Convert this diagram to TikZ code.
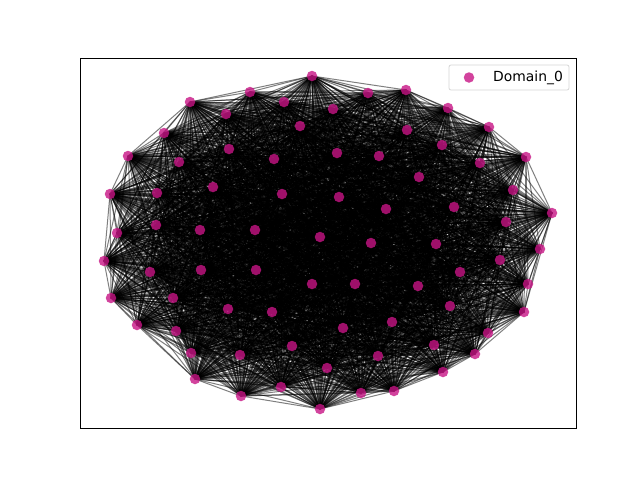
\documentclass[tikz,border=0pt]{standalone}
\usepackage{fontspec}
\setmainfont{DejaVu Sans}
\definecolor{mvr}{RGB}{199,21,133}
\definecolor{legframe}{RGB}{204,204,204}
\pgfdeclarelayer{bglayer}
\pgfdeclarelayer{edgelayer}
\pgfsetlayers{bglayer,edgelayer,main}
\begin{document}
\begin{tikzpicture}[x=1pt,y=-1pt,
  dot/.style={circle,fill=mvr,fill opacity=0.8,draw=none,inner sep=0pt,minimum size=10.5pt},
  edge/.style={draw=black,draw opacity=0.5,line width=1pt},
  frame/.style={draw=black,line width=0.8pt},
  legbox/.style={draw=legframe,fill=white,fill opacity=0.8,draw opacity=0.8,rounded corners=2pt,line width=0.8pt}]
\useasboundingbox (0,0) rectangle (640,480);
\begin{pgfonlayer}{bglayer}
\fill[white] (0,0) rectangle (640,480);
\end{pgfonlayer}
% nodes
\foreach \i/\x/\y in {
1/312/76, 2/250/92, 3/284/102, 4/190/102, 5/226/114, 6/300/126, 7/164/133, 8/128/156,
9/179/162, 10/229/149, 11/274/159, 12/110/194, 13/157/193, 14/213/187, 15/282/194, 16/117/233,
17/156/225, 18/200/230, 19/255/230, 20/320/237, 21/368/93, 22/406/90, 23/333/109, 24/448/108,
25/407/130, 26/489/127, 27/442/145, 28/337/153, 29/379/156, 30/526/157, 31/480/163, 32/419/177,
33/513/190, 34/339/197, 35/386/209, 36/454/207, 37/552/213, 38/506/222, 39/371/243, 40/436/244,
41/540/249, 42/104/261, 43/150/272, 44/201/270, 45/256/270, 46/312/284, 47/111/298, 48/173/298,
49/228/309, 50/272/312, 51/137/325, 52/176/331, 53/191/353, 54/240/355, 55/292/346, 56/327/368,
57/195/379, 58/241/396, 59/281/387, 60/320/409, 61/500/260, 62/460/272, 63/355/284, 64/418/286,
65/528/284, 66/450/306, 67/524/312, 68/392/322, 69/343/328, 70/488/333, 71/434/345, 72/475/354,
73/378/356, 74/443/372, 75/361/393, 76/394/391}
  \node[dot] (n\i) at (\x,\y) {};
% edges
\begin{pgfonlayer}{edgelayer}
\foreach \i in {1,...,75} {
  \pgfmathtruncatemacro\jstart{\i+1}
  \foreach \j in {\jstart,...,76} {
    \draw[edge] (n\i.center) -- (n\j.center);
  }
}
\end{pgfonlayer}
% axes frame
\draw[frame] (80,58) rectangle (576,428);
% legend
\draw[legbox] (449,65) rectangle (569,90);
\node[dot] (legdot) at (469,77.5) {};
\node[anchor=west,inner sep=0pt,font=\fontsize{13.9pt}{16pt}\selectfont] (legtext) at (493,77.5) {Domain\_0};
\end{tikzpicture}
\end{document}
